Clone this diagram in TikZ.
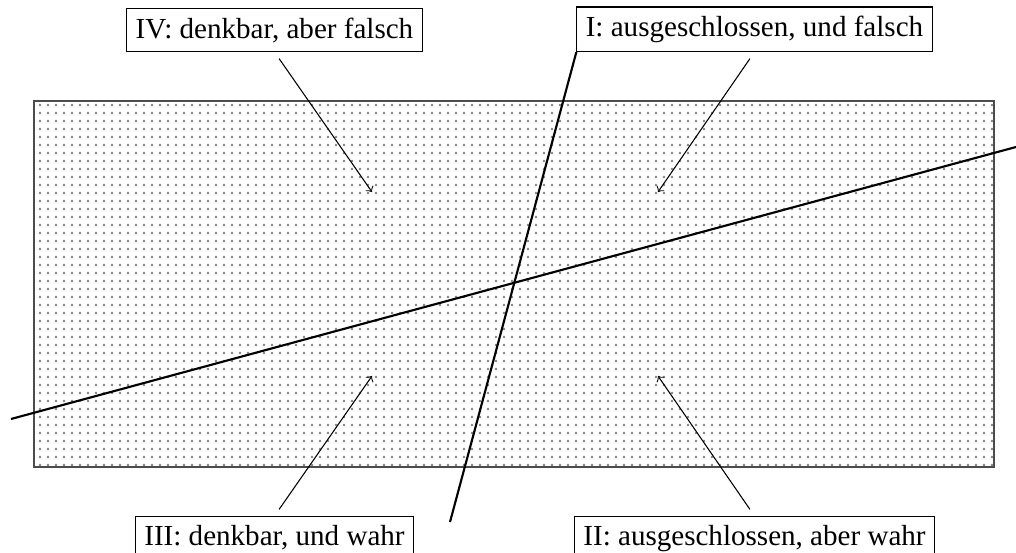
\documentclass[tikz,border=0pt]{standalone}
\usepackage{fontspec}
\setmainfont{Liberation Serif}
\usetikzlibrary{patterns,positioning}

\begin{document}
\begin{tikzpicture}[
  x=0.375pt, y=-0.375pt,
  lab/.style={draw, fill=white, inner sep=3.33pt, font=\fontsize{10.9}{13}\selectfont},
  arr/.style={->, shorten <=3pt},
  cut/.style={thick}
]
\useasboundingbox (0,0) rectangle (1016,553);
\fill[pattern=dots, pattern color=gray] (34,101) rectangle (994,467);
\draw[black!70] (34,101) rectangle (994,467);
% Trennlinien
\coordinate (a1) at (11,419);
\coordinate (a2) at (1016,147);
\coordinate (b1) at (450,522);
\draw[cut] (a1) -- (a2);
% Felder
\node[lab, anchor=south] (IV) at (274.5,52) {IV: denkbar, aber falsch};
\node[lab, anchor=south] (I) at (754.5,52) {I: ausgeschlossen, und falsch};
\node[lab, anchor=north] (III) at (274.5,516) {III: denkbar, und wahr};
\node[lab, anchor=north] (II) at (754.5,516) {II: ausgeschlossen, aber wahr};
\draw[cut] (b1) -- (I.south west);
\coordinate (q4) at (372,192);
\coordinate (q1) at (658,192);
\coordinate (q3) at (372,376);
\coordinate (q2) at (658,376);
\draw[arr] (IV.south) -- (q4);
\draw[arr] (I.south) -- (q1);
\draw[arr] (III.north) -- (q3);
\draw[arr] (II.north) -- (q2);
\end{tikzpicture}
\end{document}
